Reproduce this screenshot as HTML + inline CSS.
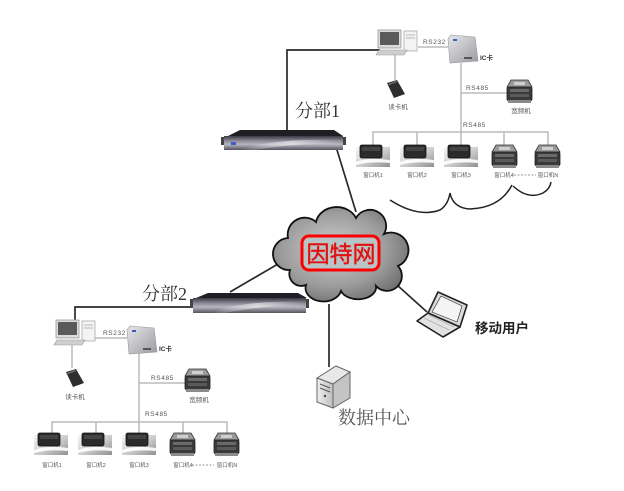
<!DOCTYPE html>
<html><head><meta charset="utf-8"><style>
html,body{margin:0;padding:0;background:#fff;}
svg{display:block;}
.s{font-family:"Liberation Sans","Noto Sans CJK SC",sans-serif;}
.sf{font-family:"Liberation Serif","Noto Serif CJK SC",serif;}
</style></head><body>
<svg width="624" height="491" viewBox="0 0 624 491" xmlns="http://www.w3.org/2000/svg">
<defs>
<linearGradient id="silver" x1="0" y1="0" x2="1" y2="1">
<stop offset="0" stop-color="#f6f6f6"/><stop offset="0.5" stop-color="#d0d0d0"/><stop offset="1" stop-color="#909090"/>
</linearGradient>
<linearGradient id="icg" x1="0" y1="0" x2="1" y2="1">
<stop offset="0" stop-color="#e6e6ea"/><stop offset="1" stop-color="#9a9aa0"/>
</linearGradient>
<linearGradient id="rt" x1="0" y1="0" x2="0" y2="1">
<stop offset="0" stop-color="#3a3a44"/><stop offset="0.35" stop-color="#8c8a96"/><stop offset="0.6" stop-color="#b8b6c0"/><stop offset="1" stop-color="#55535e"/>
</linearGradient>
<linearGradient id="rth" x1="0" y1="0" x2="1" y2="0">
<stop offset="0" stop-color="#ffffff" stop-opacity="0"/><stop offset="0.5" stop-color="#ffffff" stop-opacity="0.55"/><stop offset="1" stop-color="#ffffff" stop-opacity="0"/>
</linearGradient>
<radialGradient id="cl" cx="0.45" cy="0.45" r="0.65">
<stop offset="0" stop-color="#cfcfcf"/><stop offset="0.6" stop-color="#9c9c9c"/><stop offset="1" stop-color="#666"/>
</radialGradient>
<linearGradient id="srv" x1="0" y1="0" x2="1" y2="0">
<stop offset="0" stop-color="#f0f0f0"/><stop offset="1" stop-color="#bdbdbd"/>
</linearGradient>

<symbol id="wa" viewBox="0 0 34 22" width="34" height="22" overflow="visible">
<rect x="0" y="2" width="34" height="20" fill="url(#silver)"/>
<rect x="4" y="0" width="22" height="13" rx="2" fill="#2b2b2b" stroke="#111" stroke-width="0.8"/>
<rect x="6" y="2" width="18" height="4" fill="#444"/>
<path d="M0,17 Q12,12 34,15 L34,18 Q14,16 0,20 Z" fill="#fff" opacity="0.9"/>
</symbol>
<symbol id="wb" viewBox="0 0 25 23" width="25" height="23" overflow="visible">
<polygon points="4,0 21,0 25,7 0,7" fill="#9a9a9a" stroke="#333" stroke-width="0.8"/>
<rect x="7" y="2" width="11" height="3" fill="#cfcfcf"/>
<rect x="0" y="7" width="25" height="14" rx="2" fill="#3a3a3a" stroke="#222" stroke-width="0.8"/>
<rect x="3" y="9" width="19" height="3" fill="#6a6a6a"/>
<rect x="3" y="14" width="19" height="3" fill="#5a5a5a"/>
<rect x="1" y="20" width="23" height="3" fill="#8a8a8a"/>
</symbol>
<symbol id="pc" viewBox="0 0 42 26" width="42" height="26" overflow="visible">
<rect x="26" y="1" width="13" height="20" fill="#f3f3f3" stroke="#aaa" stroke-width="0.8"/>
<line x1="28" y1="5" x2="37" y2="5" stroke="#aaa" stroke-width="0.8"/>
<line x1="28" y1="8" x2="37" y2="8" stroke="#aaa" stroke-width="0.8"/>
<rect x="0" y="0" width="23" height="18" fill="#dcdcdc" stroke="#999" stroke-width="0.8"/>
<rect x="2" y="2" width="19" height="13" fill="#5a5a5a"/>
<polygon points="-2,25 26,25 29,20 1,20" fill="#cfcfcf" stroke="#999" stroke-width="0.6"/>
</symbol>
<symbol id="ic" viewBox="0 0 30 28" width="30" height="28" overflow="visible">
<polygon points="3,0 27,2 30,26 2,28 0,4" fill="url(#icg)" stroke="#999" stroke-width="0.6"/>
<rect x="5" y="4" width="4" height="2" fill="#3b5fc0"/>
<rect x="16" y="22" width="8" height="2" fill="#555"/>
</symbol>
<symbol id="cr" viewBox="0 0 19 18" width="19" height="18" overflow="visible">
<polygon points="1,3 11,0 19,14 8,18" fill="#2e2e2e"/>
<polygon points="2,4 10,1 11,2 3,5" fill="#777"/>
</symbol>
</defs>

<!-- main dark connectors -->
<g stroke="#2a2a2a" stroke-width="1.7" fill="none">
<polyline points="380,50 287,50 287,131"/>
<line x1="337" y1="150" x2="356" y2="212"/>
<polyline points="193,307 75,307 75,320"/>
<line x1="230" y1="292" x2="278" y2="264"/>
<line x1="329" y1="304" x2="329" y2="367"/>
<line x1="397" y1="285" x2="427" y2="312"/>
</g>

<!-- branch 1 light connectors -->
<g stroke="#bbb" stroke-width="1.5" fill="none">
<line x1="418" y1="47" x2="448" y2="47"/>
<line x1="395" y1="55" x2="395" y2="80"/>
<line x1="461" y1="63" x2="461" y2="132"/>
<line x1="461" y1="93" x2="507" y2="93"/>
<polyline points="373,145 373,132 548,132 548,145"/>
<line x1="417" y1="132" x2="417" y2="145"/>
<line x1="461" y1="132" x2="461" y2="145"/>
<line x1="504" y1="132" x2="504" y2="145"/>
<line x1="514" y1="175" x2="536" y2="175" stroke-dasharray="2,1.5"/>
</g>
<!-- branch 2 light connectors -->
<g stroke="#bbb" stroke-width="1.5" fill="none">
<line x1="95" y1="338" x2="127" y2="338"/>
<line x1="72" y1="345" x2="72" y2="368"/>
<line x1="139" y1="353" x2="139" y2="422"/>
<line x1="139" y1="383" x2="186" y2="383"/>
<polyline points="52,433 52,422 227,422 227,433"/>
<line x1="96" y1="422" x2="96" y2="433"/>
<line x1="139" y1="422" x2="139" y2="433"/>
<line x1="183" y1="422" x2="183" y2="433"/>
<line x1="192" y1="465" x2="214" y2="465" stroke-dasharray="2,1.5"/>
</g>

<!-- brace -->
<path d="M390,200 Q418,218 440,210 Q448,205 450,193 Q453,208 470,209 Q500,208 512,185 M513,186 Q528,200 543,193 Q550,189 551,182" stroke="#222" stroke-width="1.5" fill="none"/>

<!-- router 1 -->
<g>
<rect x="221" y="137" width="4" height="8" fill="#444"/>
<rect x="342" y="137" width="4" height="8" fill="#444"/>
<polygon points="228,136 240,130 334,130 343,136" fill="#1e1e24"/>
<rect x="224" y="136" width="119" height="14" fill="url(#rt)"/>
<path d="M240,150 Q270,138 343,140 L343,144 Q290,143 255,150 Z" fill="url(#rth)"/>
<rect x="231" y="142" width="5" height="3" fill="#3b5fc0"/>
</g>
<!-- router 2 -->
<g>
<rect x="190" y="299" width="4" height="9" fill="#444"/>
<rect x="305" y="299" width="4" height="9" fill="#444"/>
<polygon points="196,298 208,293 298,293 307,298" fill="#1e1e24"/>
<rect x="193" y="298" width="113" height="15" fill="url(#rt)"/>
<path d="M210,313 Q240,300 306,302 L306,306 Q260,305 225,313 Z" fill="url(#rth)"/>
</g>

<!-- branch 1 devices -->
<use href="#pc" x="378" y="30"/>
<use href="#ic" x="448" y="35"/>
<use href="#cr" x="386" y="80"/>
<use href="#wb" x="507" y="80"/>
<use href="#wa" x="356" y="145"/>
<use href="#wa" x="400" y="145"/>
<use href="#wa" x="444" y="145"/>
<use href="#wb" x="492" y="145"/>
<use href="#wb" x="535" y="145"/>

<!-- branch 2 devices -->
<use href="#pc" x="56" y="320"/>
<use href="#ic" x="127" y="326"/>
<use href="#cr" x="65" y="369"/>
<use href="#wb" x="185" y="369"/>
<use href="#wa" x="34" y="433"/>
<use href="#wa" x="78" y="433"/>
<use href="#wa" x="122" y="433"/>
<use href="#wb" x="170" y="433"/>
<use href="#wb" x="214" y="433"/>

<!-- small labels -->
<g class="s" fill="#555" font-size="6.5">
<text x="423" y="44" letter-spacing="0.6">RS232</text>
<text x="480" y="60" font-weight="bold" fill="#333">IC卡</text>
<text x="398" y="109" text-anchor="middle">读卡机</text>
<text x="466" y="90" letter-spacing="0.6">RS485</text>
<text x="521" y="113" text-anchor="middle">宽频机</text>
<text x="463" y="127" letter-spacing="0.6">RS485</text>
</g>
<g class="s" fill="#555" font-size="5.5">
<text x="373" y="177" text-anchor="middle">窗口机1</text>
<text x="417" y="177" text-anchor="middle">窗口机2</text>
<text x="461" y="177" text-anchor="middle">窗口机3</text>
<text x="504" y="177" text-anchor="middle">窗口机4</text>
<text x="548" y="177" text-anchor="middle">窗口机N</text>
</g>
<g class="s" fill="#555" font-size="6.5">
<text x="103" y="335" letter-spacing="0.6">RS232</text>
<text x="159" y="351" font-weight="bold" fill="#333">IC卡</text>
<text x="75" y="399" text-anchor="middle">读卡机</text>
<text x="151" y="380" letter-spacing="0.6">RS485</text>
<text x="199" y="402" text-anchor="middle">宽频机</text>
<text x="145" y="416" letter-spacing="0.6">RS485</text>
</g>
<g class="s" fill="#555" font-size="5.5">
<text x="52" y="467" text-anchor="middle">窗口机1</text>
<text x="96" y="467" text-anchor="middle">窗口机2</text>
<text x="139" y="467" text-anchor="middle">窗口机3</text>
<text x="183" y="467" text-anchor="middle">窗口机4</text>
<text x="227" y="467" text-anchor="middle">窗口机N</text>
</g>

<!-- big labels -->
<text class="sf" x="295" y="117" font-size="18" fill="#333">分部1</text>
<text class="sf" x="142" y="300" font-size="18" fill="#333">分部2</text>
<text class="sf" x="338" y="424" font-size="18" fill="#555">数据中心</text>
<text class="s" x="475" y="333" font-size="13.5" font-weight="bold" fill="#222">移动用户</text>

<!-- cloud -->
<path d="M290,270 A16,16 0 0 1 288,238 A17,17 0 0 1 316,222 A21,18 0 0 1 356,218 A16,16 0 0 1 384,234 A16,16 0 0 1 398,266 A14,14 0 0 1 376,286 A18,12 0 0 1 341,291 A16,12 0 0 1 306,285 A12,12 0 0 1 290,270 Z" fill="url(#cl)" stroke="#111" stroke-width="1.8"/>
<rect x="302" y="236" width="77" height="34" rx="7" fill="#b7c5c6" stroke="#f00" stroke-width="3"/>
<text x="341" y="262" font-size="23" text-anchor="middle" fill="#e41010" stroke="#e41010" stroke-width="0.4" font-family="'Noto Sans CJK SC',sans-serif">因特网</text>

<!-- laptop -->
<g stroke="#222" stroke-width="1.6" stroke-linejoin="round">
<polygon points="438,292 467,305 460,327 428,313" fill="#dcdcdc"/>
<polygon points="441,296 462,306 457,322 432,312" fill="#f4f4f4" stroke-width="0.6"/>
<polygon points="428,313 460,327 443,337 417,321" fill="#e2e2e2"/>
</g>
<g stroke="#999" stroke-width="0.6">
<line x1="424" y1="318" x2="449" y2="330"/>
<line x1="429" y1="315" x2="454" y2="327"/>
</g>

<!-- server -->
<g stroke="#666" stroke-width="1">
<polygon points="317,378 336,366 350,372 333,384" fill="#e8e8e8"/>
<polygon points="333,384 350,372 350,398 333,408" fill="#c4c4c4"/>
<polygon points="317,378 333,384 333,408 317,402" fill="url(#srv)"/>
</g>
<g stroke="#555" stroke-width="1">
<line x1="320" y1="384" x2="330" y2="388"/>
<line x1="320" y1="388" x2="330" y2="392"/>
</g>
<circle cx="325" cy="396" r="1.2" fill="#444"/>
</svg>
</body></html>
